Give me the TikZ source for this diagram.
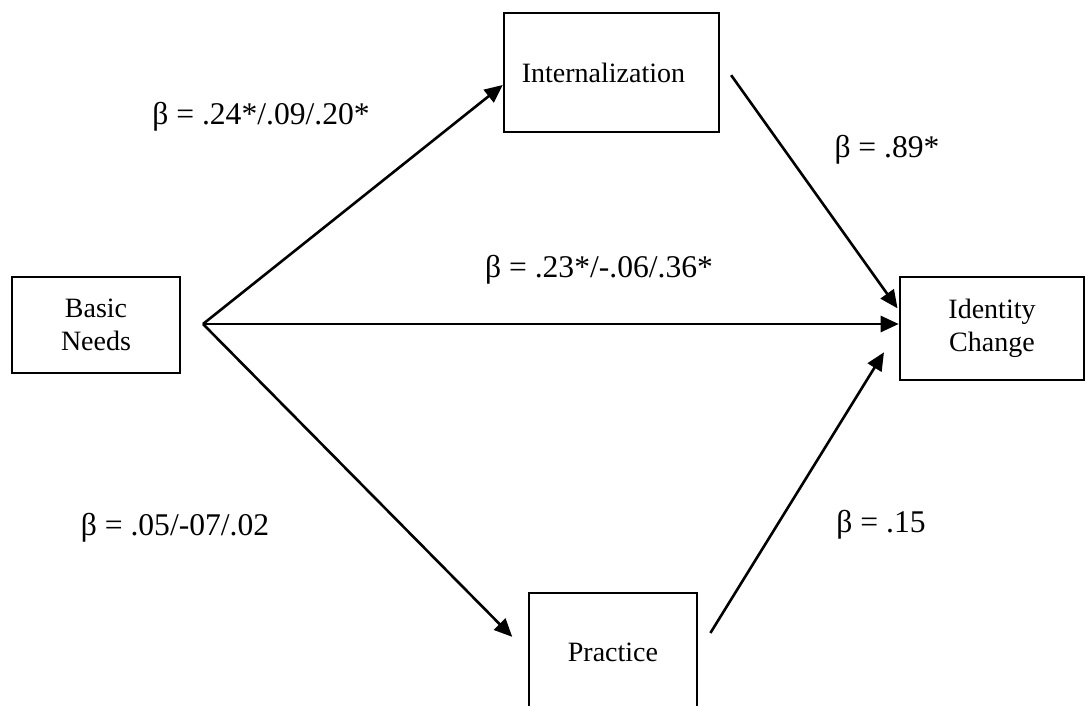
\documentclass[tikz,border=0pt]{standalone}
\usepackage{fontspec}
\setmainfont{Liberation Serif}
\usetikzlibrary{arrows.meta,calc}

\begin{document}
\begin{tikzpicture}[x=0.5pt,y=-0.5pt]

  \useasboundingbox (0,0) rectangle (1086,706);

  \coordinate (Basic) at (96,325);
  \coordinate (Intern) at (611.5,72.5);
  \coordinate (Ident) at (992,328.5);
  \coordinate (Pract) at (613,652.5);
  \coordinate (Hub) at (203,324);

  \tikzstyle{vbox}=[draw=black,line width=1.3pt,
                    shape=rectangle,inner sep=0pt,
                    align=center,
                    font=\fontsize{14}{16.5}\selectfont];
  \tikzstyle{coef}=[font=\fontsize{15.8}{18}\selectfont];
  \tikzstyle{link}=[-{Triangle[length=9pt,width=8pt]},line width=1.3pt];

  \node[vbox,minimum width=84pt,minimum height=48pt] (BasicBox) at (Basic) {Basic\\Needs};
  \node[vbox,minimum width=107.5pt,minimum height=59.5pt] (InternBox) at (Intern) {Internalization\hspace{8pt}};
  \node[vbox,minimum width=92pt,minimum height=51.5pt] (IdentBox) at (Ident) {Identity\\Change};
  \node[vbox,minimum width=84pt,minimum height=59.5pt] (PractBox) at (Pract) {Practice};

  % paths out of basic needs
  \draw[link] (Hub) -- ($(InternBox.west)+(0,12.5)$);
  \draw[link] (Hub) -- (Hub -| IdentBox.west);
  \draw[link,shorten >=11pt] (Hub) -- (PractBox.west);

  % paths into identity change
  \draw[link,shorten <=9.3pt,shorten >=1pt] ($(InternBox.east)+(0,-12.5)$) --
                   ($(IdentBox.west)+(0,-18.5)$);
  \draw[link,shorten <=11.5pt,shorten >=14pt] (PractBox.east) -- (IdentBox.west);

  \node[coef] (CoefA) at (261,117) {β = .24*/.09/.20*};
  \node[coef] (CoefB) at (599,270) {β = .23*/-.06/.36*};
  \node[coef] (CoefC) at (887,150) {β = .89*};
  \node[coef] (CoefD) at (175,528) {β = .05/-07/.02};
  \node[coef] (CoefE) at (881,525) {β = .15};

\end{tikzpicture}
\end{document}
